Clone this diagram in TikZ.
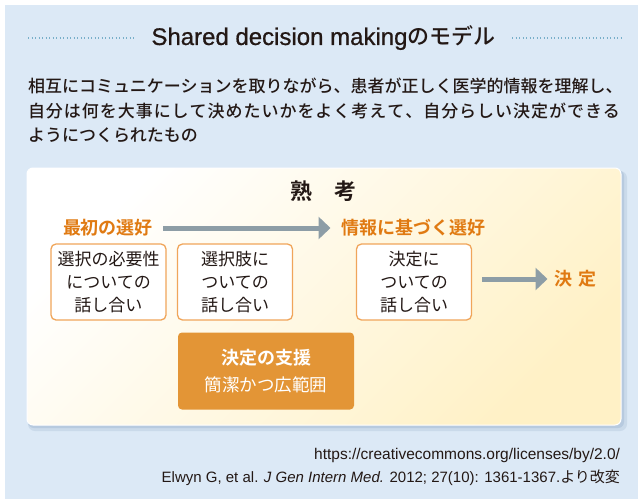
\documentclass[tikz,border=0pt]{standalone}
\usepackage{fontspec}
\setmainfont{Liberation Sans}
\newfontfamily\titlelat{Liberation Sans}[FakeBold=0.7]
\newfontfamily\jp{Noto Sans CJK JP}
\newfontfamily\jpm{Noto Sans CJK JP Medium}
\newfontfamily\jpb{Noto Sans CJK JP Bold}
\usetikzlibrary{arrows.meta}
\definecolor{panel}{HTML}{DCE9F6}
\definecolor{orangetxt}{HTML}{E07A12}
\definecolor{boxline}{HTML}{F0A55A}
\definecolor{orangefill}{HTML}{E39536}
\definecolor{arrowgray}{HTML}{8D9DA6}
\definecolor{dotcol}{HTML}{78AFC9}
\definecolor{txt}{HTML}{231815}
\definecolor{cream}{HTML}{FFF1C6}
\definecolor{shadowa}{HTML}{B7CADF}
\definecolor{shadowb}{HTML}{CADAEA}
\tikzset{
  dotline/.style={dotcol, line width=1.3pt, dash pattern=on 1.3pt off 2.2pt},
  plain/.style={inner sep=0pt, outer sep=0pt, text=txt},
  preflabel/.style={inner sep=0pt, outer sep=0pt, text=orangetxt, font=\jpb\fontsize{18}{22}\selectfont},
  talkbox/.style={draw=boxline, line width=1.3pt, fill=white, rounded corners=5pt,
    minimum width=115pt, minimum height=76pt, inner sep=0pt, align=center, text=txt,
    font=\jp\fontsize{17}{23}\selectfont},
  supportbox/.style={fill=orangefill, rounded corners=4pt, minimum width=176pt,
    minimum height=77pt, inner sep=0pt, align=center, text=white,
    font=\fontsize{18}{27}\selectfont},
  grayarrow/.style={arrowgray, line width=5pt, -{Triangle[length=12pt,width=22pt]}},
  foot/.style={inner sep=0pt, outer sep=0pt, text=txt, font=\fontsize{15}{18}\selectfont}
}
\begin{document}
\begin{tikzpicture}[x=1pt,y=-1pt]
\path[use as bounding box] (0,0) rectangle (638,499);
\fill[white] (0,0) rectangle (638,499);
\fill[panel] (4.5,5) rectangle (638,499);
% title
\draw[dotline] (28,38) -- (136,38);
\draw[dotline] (512,38) -- (622,38);
\node[plain, font=\titlelat\fontsize{24}{28}\selectfont] (title) at (323.5,38) {Shared decision making{\jpm\fontsize{22}{26}\selectfont のモデル}};
% paragraph
\node[plain, anchor=west, font=\jpm\fontsize{17}{20}\selectfont] (p1) at (28,86) {相互にコミュニケーションを取りながら、患者が正しく医学的情報を理解し、};
\node[plain, anchor=west, font=\jpm\fontsize{17}{20}\selectfont] (p2) at (28,110.5) {\hbox to 592pt{自\hfil 分\hfil は\hfil 何\hfil を\hfil 大\hfil 事\hfil に\hfil し\hfil て\hfil 決\hfil め\hfil た\hfil い\hfil か\hfil を\hfil よ\hfil く\hfil 考\hfil え\hfil て\hfil 、\hfil 自\hfil 分\hfil ら\hfil し\hfil い\hfil 決\hfil 定\hfil が\hfil で\hfil き\hfil る}};
\node[plain, anchor=west, font=\jpm\fontsize{17}{20}\selectfont] (p3) at (28,135) {ようにつくられたもの};
% inner box with shadow
\fill[shadowb, rounded corners=7pt] (28,171) rectangle (627,431);
\fill[shadowa, rounded corners=6pt] (28,170) rectangle (624,428);
\shade[rounded corners=6pt, top color=white, bottom color=cream, shading angle=45] (27,168) rectangle (621,425);
\draw[white, line width=1pt, rounded corners=6pt] (27,168) rectangle (621,425);
% contents
\node[plain, font=\jpb\fontsize{22}{26}\selectfont] (think) at (323,191) {熟　考};
\node[preflabel] (pref1) at (108,228) {最初の選好};
\node[preflabel] (pref2) at (413.5,228) {情報に基づく選好};
\draw[grayarrow, shorten <=10pt, shorten >=11pt] (pref1.east) -- (pref2.west);
\node[talkbox] (b1) at (108.5,282) {選択の必要性\\についての\\話し合い};
\node[talkbox] (b2) at (235,282) {選択肢に\\ついての\\話し合い};
\node[talkbox] (b3) at (414,282) {決定に\\ついての\\話し合い};
\node[preflabel] (decide) at (575.5,279) {決\hspace{6pt}定};
\draw[grayarrow, shorten <=10pt, shorten >=7pt] (b3.east |- decide.west) -- (decide.west);
\node[supportbox] (support) at (266,371) {{\jpb 決定の支援}\\{\jp\fontsize{17.5}{27}\selectfont 簡潔かつ広範囲}};
% footer
\node[foot, anchor=east, font=\fontsize{15.5}{18}\selectfont] (url) at (620,455) {https://creativecommons.org/licenses/by/2.0/};
\node[foot, anchor=east] (cite) at (620,478) {Elwyn G, et al. \textit{J Gen Intern Med.} 2012; 27(10): 1361-1367.{\jp より改変}};
\end{tikzpicture}
\end{document}
